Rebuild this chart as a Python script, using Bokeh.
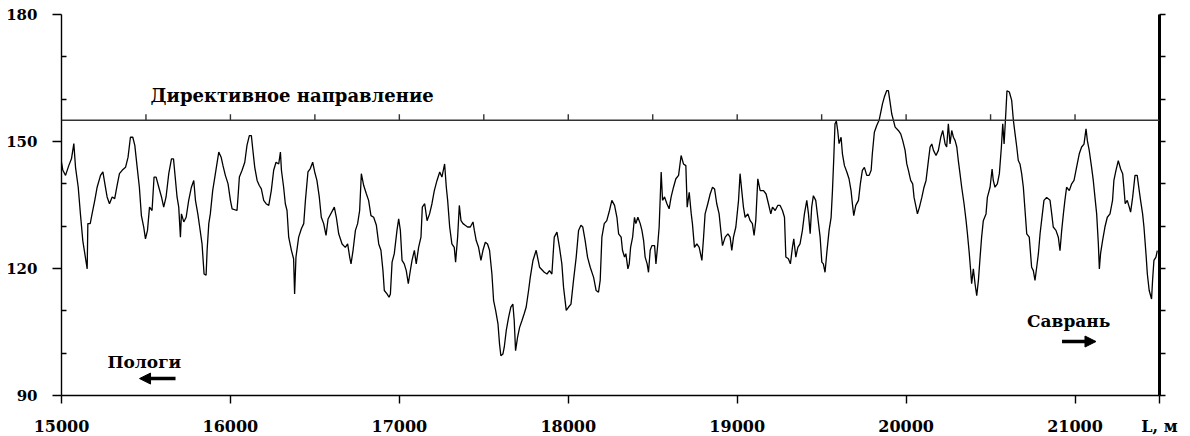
from bokeh.plotting import figure
from bokeh.models import Range1d, LinearAxis, FixedTicker, Label, Arrow, NormalHead, Span
from bokeh.embed import file_html
from bokeh.resources import INLINE

# ---------------- data (distance L, m  /  azimuth, deg) ----------------
dist_a = [15000,15008,15024,15043,15059,15073,15083,15099,15112,15126,
          15138,15152,15156,15170,15181,15197,15211,15231,15245,15260,
          15270,15284,15300,15315,15329,15343,15359,15379,15394,15408,
          15422,15434,15448,15461,15473,15487,15497,15509,15521,15536,
          15548,15560,15576,15592,15605,15619,15635,15651,15663,15674,
          15684,15694,15704,15710,15724,15738,15753,15769,15783,15793,
          15807,15818,15832,15844,15856,15862,15872,15881,15895,15911,
          15931,15945,15956,15970,15986,16000,16010,16039,16045,16053,
          16069,16085,16098,16112,16124,16132,16144,16158,16171,16183,
          16197,16211,16227,16242,16256,16270,16286,16296,16302,16315,
          16325,16335,16345,16361,16374,16380,16388,16404,16420,16434,
          16444,16459,16473,16487,16499,16512,16526,16538,16552,16566,
          16578]
azim_a = [145.1,143.2,142.0,144.3,145.9,149.5,143.9,139.2,132.9,126.6,
          123.5,119.9,130.6,130.6,132.9,136.1,139.2,142.0,142.8,139.2,
          136.9,135.3,136.9,136.5,139.6,142.4,143.2,143.9,146.3,151.0,
          151.0,149.1,143.9,139.2,132.5,129.7,127.0,129.0,134.5,133.7,
          141.6,141.6,139.2,136.9,134.5,136.9,142.4,145.9,145.9,141.2,
          136.9,134.5,127.4,132.9,131.0,132.1,136.1,139.2,140.8,136.1,
          132.9,129.8,125.8,118.7,118.4,124.3,130.6,132.9,138.4,142.4,
          147.5,146.3,144.3,142.0,140.0,136.1,134.1,133.7,136.9,141.6,
          143.2,145.1,149.1,151.4,151.4,148.3,143.9,140.8,139.6,138.8,
          136.1,135.3,134.9,138.4,143.2,145.1,144.7,147.5,143.2,139.2,
          135.3,133.7,127.4,124.3,122.3,114.0,122.7,127.4,129.4,130.6,
          136.1,142.8,143.6,145.1,142.8,140.8,136.9,132.1,130.6,127.8,
          131.7]

dist_b = [16615,16627,16641,16661,16680,16694,16706,16714,16726,16740,
          16753,16765,16775,16789,16805,16818,16832,16848,16864,16878,
          16891,16903,16911,16927,16939,16947,16957,16970,16986,16996,
          17006,17016,17029,17041,17053,17065,17075,17089,17100,17114,
          17128,17136,17150,17164,17179,17193,17207,17223,17239,17252,
          17268,17278,17286,17298,17311,17325,17333,17345,17355,17365,
          17377,17390,17404,17420,17436,17444,17455,17469,17483,17495,
          17509,17522,17534,17548,17558,17570,17584,17593,17601,17613,
          17621,17633,17647,17660,17672,17680,17688,17700,17712,17726,
          17739,17751,17765,17775,17791,17810,17818,17830,17858,17874,
          17889,17903,17917,17933,17948,17962,17972,17988,18002,18016,
          18031,18047,18061,18075,18086,18100,18114,18130,18150,18165,
          18179,18189,18199,18213,18228,18244,18258]
azim_b = [134.5,132.1,128.2,125.8,125.0,125.8,122.7,121.1,124.3,129.0,
          130.6,133.7,142.4,139.6,137.6,136.1,132.5,132.1,130.2,125.8,
          124.3,119.5,114.8,114.0,113.2,114.0,121.5,123.5,129.0,131.7,
          129.0,121.9,121.1,119.5,116.4,119.5,121.9,124.3,121.1,125.0,
          127.4,134.5,135.3,131.3,132.9,135.3,138.4,140.8,142.8,141.6,
          144.7,139.2,136.1,129.8,125.8,125.0,121.5,127.4,134.9,131.3,
          130.6,130.2,129.8,129.8,131.0,129.0,126.6,125.0,121.9,124.3,
          126.2,125.8,124.3,118.7,112.4,110.1,106.9,102.2,99.4,99.8,
          101.4,105.4,108.5,110.9,111.6,107.7,100.6,103.8,106.1,107.7,
          109.3,110.9,114.8,117.9,121.9,124.3,122.7,120.3,119.1,118.7,
          119.5,118.7,127.4,128.6,125.0,121.1,115.6,110.1,110.9,111.6,
          117.2,122.7,129.0,130.2,129.8,126.6,122.7,120.3,117.9,114.8,
          114.4,117.2,127.4,130.6,131.3,133.7,136.1]

dist_c = [18274,18288,18298,18313,18321,18333,18341,18353,18361,18369,
          18381,18392,18400,18412,18426,18436,18446,18455,18467,18475,
          18485,18495,18511,18519,18530,18538,18550,18558,18570,18584,
          18597,18609,18623,18637,18653,18668,18682,18696,18704,18716,
          18728,18735,18747,18761,18775,18791,18801,18810,18826,18840,
          18854,18866,18879,18893,18905,18913,18929,18945,18958,18968,
          18978,18992,19008,19017,19027,19037,19047,19063,19077,19090,
          19100,19110,19122,19136,19156,19171,19185,19199,19209,19225,
          19240,19254,19268,19280,19288,19303,19315,19327,19335,19347,
          19359,19372,19386,19398,19412,19422,19432,19441,19451,19465,
          19477,19491,19501,19510,19520,19530,19544,19556,19564,19572,
          19579,19587,19595,19603,19615,19623,19635,19649,19662,19674,
          19682,19690,19702,19718,19729,19741,19753,19767,19781,19793,
          19800,19812,19826,19840,19852,19860,19871,19885]
azim_c = [134.9,132.1,128.2,127.4,124.3,122.7,123.5,119.9,121.1,125.0,
          127.4,132.1,130.6,132.1,130.6,129.0,126.6,122.7,121.1,119.1,
          124.3,125.4,125.4,121.1,125.8,129.8,142.8,136.1,136.9,135.3,
          134.1,136.9,139.2,141.2,142.0,146.7,144.7,144.3,134.5,138.0,
          132.9,130.6,125.0,125.8,125.0,121.9,127.4,132.9,135.3,137.6,
          139.2,138.8,135.3,132.9,128.2,125.4,127.4,128.2,127.4,124.3,
          127.4,129.8,136.1,142.4,138.4,134.5,132.1,132.9,131.3,130.6,
          127.8,131.3,141.2,138.4,138.4,137.6,135.3,132.9,134.5,133.7,
          134.9,134.9,133.7,132.1,122.7,122.3,121.1,125.0,127.0,122.7,
          125.0,125.8,129.0,132.9,136.1,132.9,128.2,134.5,137.2,136.1,
          132.1,127.4,121.5,121.1,119.1,123.5,129.0,132.1,138.4,146.3,
          154.2,154.8,152.6,149.5,151.0,147.1,144.3,142.8,141.2,138.4,
          135.3,132.5,134.9,136.1,140.0,143.2,143.9,142.0,142.0,143.2,
          147.1,152.2,153.8,155.0,157.3,158.9,160.5,162.0]

dist_d = [19895,19905,19915,19925,19935,19954,19968,19980,19994,20004,
          20014,20027,20039,20047,20059,20067,20079,20093,20106,20118,
          20132,20142,20152,20162,20177,20191,20205,20217,20231,20240,
          20250,20260,20270,20280,20290,20300,20309,20319,20329,20343,
          20355,20363,20374,20382,20388,20398,20408,20418,20428,20438,
          20447,20457,20473,20481,20497,20509,20516,20526,20540,20552,
          20564,20572,20580,20591,20597,20611,20625,20635,20645,20655,
          20664,20674,20684,20694,20704,20714,20729,20743,20753,20763,
          20773,20783,20793,20802,20816,20832,20852,20862,20871,20887,
          20901,20911,20921,20931,20940,20950,20966,20980,20994,21009,
          21025,21039,21053,21065,21073,21084,21098,21108,21118,21128,
          21138,21144,21151,21163,21177,21191,21207,21222,21230,21242,
          21256,21270,21282,21289,21297,21309,21321,21329,21341,21355,
          21368,21380,21388,21400,21408,21420,21428,21439,21453,21459,
          21467,21479,21487]
azim_d = [162.0,159.3,156.5,155.0,153.4,152.6,151.8,150.2,147.9,144.7,
          143.1,140.8,140.0,136.8,134.5,132.9,134.5,136.8,139.2,140.8,
          145.5,148.7,149.4,147.9,146.7,147.9,151.0,152.6,149.4,148.7,
          154.2,149.4,152.6,151.0,150.2,148.7,145.5,142.4,139.2,135.3,
          131.3,128.2,123.5,119.5,116.4,119.9,116.4,113.6,117.2,122.7,
          127.4,131.3,132.9,136.8,139.2,143.5,140.8,139.2,140.0,142.4,
          148.7,154.2,149.4,157.3,162.0,161.7,159.7,155.0,151.8,148.7,
          145.5,144.7,142.4,139.2,133.7,128.2,127.4,120.3,119.5,117.2,
          120.3,123.5,128.2,131.3,136.1,136.8,136.1,132.9,129.8,129.0,
          127.4,124.2,129.0,132.9,136.1,139.2,138.4,140.0,140.8,143.9,
          147.1,148.7,149.4,153.0,150.2,147.9,143.9,140.8,136.8,132.9,
          125.8,119.9,123.5,126.6,129.8,132.1,132.9,136.1,140.8,143.1,
          145.5,143.5,142.4,139.2,135.3,136.1,134.5,133.3,136.8,142.0,
          142.0,138.4,136.1,132.9,129.8,123.5,118.7,114.8,112.8,117.2,
          121.9,122.7,124.2]

directive_azimuth = 155
directive_ticks = [15500, 16000, 16500, 17000, 17500, 18000, 18500,
                   19000, 19500, 20000, 20500, 21000]
x_ticks = [15000, 16000, 17000, 18000, 19000, 20000, 21000, 21500]
x_unit_label = {21500: "L, м"}
y_major = [90, 120, 150, 180]
y_minor = [100, 110, 130, 140, 160, 170]
y_right = [90, 100, 110, 120, 130, 140, 150, 160, 170, 180]

directive_label = "Директивное направление"
left_label = "Пологи"
right_label = "Саврань"

# ---------------- figure ----------------
FONT = "DejaVu Serif"

p = figure(frame_width=1098, frame_height=381,
           x_range=Range1d(15000, 21500), y_range=Range1d(90, 180),
           output_backend="svg", toolbar_location=None,
           min_border_left=61, min_border_top=14, min_border_right=30, min_border_bottom=0,
           background_fill_color="white", border_fill_color="white",
           outline_line_color=None)
p.grid.visible = False

# bottom axis
xa = p.xaxis[0]
xa.ticker = FixedTicker(ticks=x_ticks, minor_ticks=[])
xa.major_label_overrides = x_unit_label
xa.major_tick_out = 8
xa.major_tick_in = 0
xa.minor_tick_out = 0
xa.minor_tick_in = 0
xa.axis_line_width = 1.4
xa.axis_line_color = "black"
xa.major_tick_line_width = 1.4
xa.major_tick_line_color = "black"
xa.major_label_text_font = FONT
xa.major_label_text_font_style = "bold"
xa.major_label_text_font_size = "16px"
xa.major_label_text_color = "black"
xa.major_label_standoff = 13

# left axis
ya = p.yaxis[0]
ya.ticker = FixedTicker(ticks=y_major, minor_ticks=y_minor)
ya.major_tick_out = 9
ya.major_tick_in = 0
ya.minor_tick_out = 0
ya.minor_tick_in = 5
ya.axis_line_width = 1.4
ya.axis_line_color = "black"
ya.major_tick_line_width = 1.4
ya.minor_tick_line_width = 1.4
ya.major_tick_line_color = "black"
ya.minor_tick_line_color = "black"
ya.major_label_text_font = FONT
ya.major_label_text_font_style = "bold"
ya.major_label_text_font_size = "15px"
ya.major_label_text_color = "black"
ya.major_label_standoff = 15

# right axis (thick, no labels)
ra = LinearAxis(ticker=FixedTicker(ticks=y_right, minor_ticks=[]),
                major_tick_out=6, major_tick_in=0, minor_tick_out=0, minor_tick_in=0,
                axis_line_width=3, axis_line_color="black",
                major_tick_line_width=1.4, major_tick_line_color="black",
                major_label_overrides={t: "" for t in y_right},
                major_label_text_font_size="1px", major_label_standoff=0)
p.add_layout(ra, "right")

# directive line with its upward ticks
p.add_layout(Span(location=directive_azimuth, dimension="width",
                  line_color="#333333", line_width=1.5))
p.ray(x=directive_ticks, y=[directive_azimuth] * len(directive_ticks),
      length=6, length_units="screen", angle=90, angle_units="deg",
      line_color="#333333", line_width=1.4)

# the azimuth track
dist_all = dist_a + dist_b + dist_c + dist_d
azim_all = azim_a + azim_b + azim_c + azim_d
n = min(len(dist_all), len(azim_all))
p.line(dist_all[:n], azim_all[:n], line_color="black", line_width=1.3)

# texts
p.add_layout(Label(x=15527, y=160.9, text=directive_label, text_font=FONT,
                   text_font_style="bold", text_font_size="18px",
                   text_baseline="middle", text_align="left", text_color="black"))
p.add_layout(Label(x=15272, y=98.0, text=left_label, text_font=FONT,
                   text_font_style="bold", text_font_size="17px",
                   text_baseline="middle", text_align="left", text_color="black"))
p.add_layout(Label(x=20716, y=107.7, text=right_label, text_font=FONT,
                   text_font_style="bold", text_font_size="17px",
                   text_baseline="middle", text_align="left", text_color="black"))

# direction arrows
p.add_layout(Arrow(end=NormalHead(size=11, fill_color="black", line_color="black"),
                   x_start=15675, y_start=94.0, x_end=15462, y_end=94.0,
                   line_width=3.5, line_color="black"))
p.add_layout(Arrow(end=NormalHead(size=11, fill_color="black", line_color="black"),
                   x_start=20923, y_start=102.75, x_end=21124, y_end=102.75,
                   line_width=3.5, line_color="black"))

open("out.html", "w").write(file_html(p, INLINE))
